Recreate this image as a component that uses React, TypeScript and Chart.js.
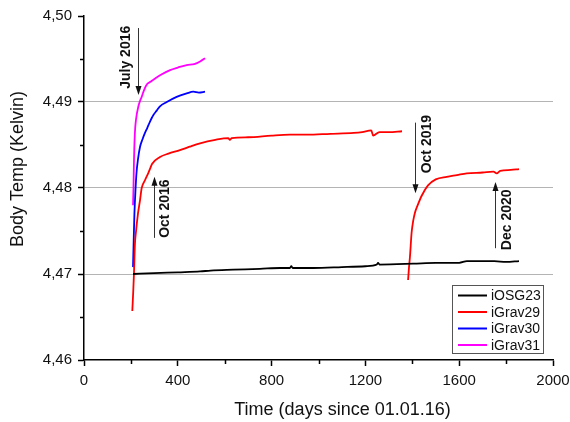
import React, { useEffect, useRef } from "react";
import { Chart, registerables } from "chart.js";

Chart.register(...registerables);

// ---- data (days since 01.01.16, body temperature in K) ----
const osgDays = [209, 300, 400, 495, 540, 637, 750, 836, 878, 884, 890, 977, 1100, 1200, 1249, 1254, 1260, 1403, 1500, 1600, 1633, 1700, 1750, 1800, 1855];
const osgTemp = [4.4700, 4.4701, 4.4702, 4.4703, 4.4704, 4.4705, 4.4706, 4.4707, 4.4707, 4.4709, 4.4707, 4.4707, 4.4708, 4.4709, 4.4711, 4.4713, 4.4711, 4.4712, 4.4713, 4.4713, 4.4715, 4.4715, 4.4715, 4.4714, 4.4715];

const g29DaysA = [206, 210, 213, 217, 222, 230, 239, 246, 260, 275, 284, 290, 324, 360, 409, 450, 495, 560, 615, 622, 630, 700, 800, 878, 950, 1050, 1150, 1186, 1225, 1233, 1260, 1300, 1356];
const g29TempA = [4.4657, 4.4680, 4.4700, 4.4734, 4.4750, 4.4770, 4.4786, 4.4800, 4.4809, 4.4818, 4.4824, 4.4828, 4.4836, 4.4840, 4.4844, 4.4848, 4.4852, 4.4856, 4.4858, 4.4856, 4.4858, 4.4859, 4.4861, 4.4862, 4.4862, 4.4863, 4.4864, 4.4865, 4.4867, 4.4861, 4.4865, 4.4865, 4.4866];
const g29DaysB = [1382, 1386, 1390, 1397, 1404, 1411, 1423, 1440, 1467, 1500, 1547, 1590, 1632, 1700, 1746, 1760, 1775, 1820, 1855];
const g29TempB = [4.4693, 4.4708, 4.4720, 4.4748, 4.4762, 4.4771, 4.4780, 4.4791, 4.4803, 4.4810, 4.4813, 4.4815, 4.4817, 4.4818, 4.4819, 4.4817, 4.4820, 4.4821, 4.4822];

const g30Days = [209, 212, 215, 220, 224, 230, 239, 250, 260, 270, 281, 290, 296, 310, 324, 353, 395, 438, 466, 490, 516];
const g30Temp = [4.4708, 4.4740, 4.4770, 4.4800, 4.4818, 4.4833, 4.4848, 4.4857, 4.4864, 4.4870, 4.4877, 4.4882, 4.4885, 4.4890, 4.4895, 4.4900, 4.4906, 4.4910, 4.4912, 4.4911, 4.4912];

const g31Days = [209, 211, 213, 217, 222, 232, 240, 246, 255, 267, 280, 296, 330, 367, 400, 438, 470, 495, 516];
const g31Temp = [4.4780, 4.4800, 4.4830, 4.4864, 4.4880, 4.4895, 4.4902, 4.4906, 4.4913, 4.4920, 4.4923, 4.4926, 4.4932, 4.4937, 4.4940, 4.4943, 4.4944, 4.4947, 4.4951];

const seriesNames = ["iOSG23", "iGrav29", "iGrav30", "iGrav31"];
const seriesColors = ["#000000", "#ff0000", "#0000ff", "#ff00ff"];

const xMinorTicks = [200, 600, 1000, 1400, 1800];
const yMinorTicks = [4.465, 4.475, 4.485, 4.495];
const yGridValues = [4.47, 4.48, 4.49];

// annotations: arrow x (day), arrow from/to (K), label x (day), label centre (K)
const noteLabels = ["July 2016", "Oct 2016", "Oct 2019", "Dec 2020"];
const noteArrowX = [230, 298, 1411, 1753];
const noteArrowFrom = [4.4986, 4.4742, 4.4876, 4.4730];
const noteArrowTo = [4.4908, 4.4813, 4.4794, 4.4807];
const noteTextX = [179, 345, 1463, 1804];
const noteTextY = [4.4952, 4.4776, 4.4851, 4.4763];

const FONT = '"Liberation Sans", Arial, sans-serif';

const zip = (xs: number[], ys: number[]) => xs.map((x, i) => ({ x, y: ys[i] }));

const overlay = {
  id: "overlay",
  afterDraw(chart: any) {
    const { ctx, chartArea } = chart;
    const xs = chart.scales.x;
    const ys = chart.scales.y;
    const { left, right, top, bottom } = chartArea;
    ctx.save();

    // minor ticks
    ctx.strokeStyle = "#000";
    ctx.lineWidth = 1.5;
    ctx.beginPath();
    xMinorTicks.forEach((v) => {
      const px = Math.round(xs.getPixelForValue(v)) + 0.5;
      ctx.moveTo(px, bottom);
      ctx.lineTo(px, bottom + 4);
    });
    yMinorTicks.forEach((v) => {
      const py = Math.round(ys.getPixelForValue(v)) + 0.5;
      ctx.moveTo(left - 4, py);
      ctx.lineTo(left, py);
    });
    ctx.stroke();

    // axis titles
    ctx.fillStyle = "#111";
    ctx.font = `18px ${FONT}`;
    ctx.textAlign = "center";
    ctx.textBaseline = "middle";
    ctx.fillText("Time (days since 01.01.16)", (left + right) / 2 + 24, 410);
    ctx.save();
    ctx.translate(18, (top + bottom) / 2 - 19);
    ctx.rotate(-Math.PI / 2);
    ctx.fillText("Body Temp (Kelvin)", 0, 0);
    ctx.restore();

    // annotations
    noteLabels.forEach((label, i) => {
      const ax = Math.round(xs.getPixelForValue(noteArrowX[i])) + 0.5;
      const y0 = ys.getPixelForValue(noteArrowFrom[i]);
      const y1 = ys.getPixelForValue(noteArrowTo[i]);
      const dir = y1 > y0 ? 1 : -1;
      ctx.strokeStyle = "#333";
      ctx.lineWidth = 1;
      ctx.beginPath();
      ctx.moveTo(ax, y0);
      ctx.lineTo(ax, y1 - dir * 7);
      ctx.stroke();
      ctx.fillStyle = "#111";
      ctx.beginPath();
      ctx.moveTo(ax, y1);
      ctx.lineTo(ax - 3, y1 - dir * 9);
      ctx.lineTo(ax + 3, y1 - dir * 9);
      ctx.closePath();
      ctx.fill();

      const tx = xs.getPixelForValue(noteTextX[i]);
      const ty = ys.getPixelForValue(noteTextY[i]);
      ctx.save();
      ctx.translate(tx, ty);
      ctx.rotate(-Math.PI / 2);
      ctx.font = `bold 14px ${FONT}`;
      ctx.textAlign = "center";
      ctx.textBaseline = "middle";
      ctx.fillStyle = "#111";
      ctx.fillText(label, 0, 0);
      ctx.restore();
    });

    // legend
    const bx1 = right - 10;
    const by1 = bottom - 7;
    const bx0 = bx1 - 91;
    const by0 = by1 - 68;
    ctx.fillStyle = "#fff";
    ctx.fillRect(bx0, by0, bx1 - bx0, by1 - by0);
    ctx.strokeStyle = "#555";
    ctx.lineWidth = 1;
    ctx.strokeRect(Math.round(bx0) + 0.5, Math.round(by0) + 0.5, bx1 - bx0, by1 - by0);
    ctx.font = `14px ${FONT}`;
    ctx.textAlign = "left";
    ctx.textBaseline = "middle";
    seriesNames.forEach((name, i) => {
      const ry = by0 + 10.5 + i * 16.5;
      ctx.strokeStyle = seriesColors[i];
      ctx.lineWidth = 2;
      ctx.beginPath();
      ctx.moveTo(bx0 + 6, ry);
      ctx.lineTo(bx0 + 35, ry);
      ctx.stroke();
      ctx.fillStyle = "#111";
      ctx.fillText(name, bx0 + 39, ry + 1);
    });

    ctx.restore();
  },
};

export default function App() {
  const ref = useRef<HTMLCanvasElement>(null);
  useEffect(() => {
    const redData = [
      ...zip(g29DaysA, g29TempA),
      { x: 1370, y: null as any },
      ...zip(g29DaysB, g29TempB),
    ];
    const common = {
      pointRadius: 0,
      borderWidth: 1.8,
      fill: false,
      cubicInterpolationMode: "monotone" as const,
      spanGaps: false,
    };
    const chart = new Chart(ref.current!, {
      type: "line",
      data: {
        datasets: [
          { label: seriesNames[0], data: zip(osgDays, osgTemp), borderColor: seriesColors[0], ...common },
          { label: seriesNames[1], data: redData, borderColor: seriesColors[1], ...common },
          { label: seriesNames[2], data: zip(g30Days, g30Temp), borderColor: seriesColors[2], ...common },
          { label: seriesNames[3], data: zip(g31Days, g31Temp), borderColor: seriesColors[3], ...common },
        ],
      },
      options: {
        responsive: false,
        animation: false,
        layout: { padding: { top: 16, right: 17, left: 0, bottom: 0 } },
        plugins: { legend: { display: false }, tooltip: { enabled: false } },
        scales: {
          x: {
            type: "linear",
            min: 0,
            max: 2000,
            afterFit: (s: any) => {
              s.height = 62;
              s.paddingLeft = 0;
              s.paddingRight = 0;
            },
            ticks: {
              stepSize: 400,
              padding: 6,
              color: "#111",
              font: { family: FONT, size: 15 },
              maxRotation: 0,
              callback: (v: any) => String(Math.round(Number(v))),
            },
            grid: { drawOnChartArea: false, tickLength: 6, tickColor: "#000", tickWidth: 1.5 },
            border: { display: true, color: "#000", width: 1.5 },
          },
          y: {
            type: "linear",
            min: 4.46,
            max: 4.5,
            afterFit: (s: any) => {
              s.width = 84;
              s.paddingTop = 0;
              s.paddingBottom = 0;
            },
            ticks: {
              stepSize: 0.01,
              padding: 6,
              color: "#111",
              font: { family: FONT, size: 15 },
              callback: (v: any) => Number(v).toFixed(2).replace(".", ","),
            },
            grid: {
              color: (c: any) =>
                c.tick && yGridValues.some((g) => Math.abs(g - c.tick.value) < 1e-6) ? "#b4b4b4" : "rgba(0,0,0,0)",
              lineWidth: 1,
              tickLength: 6,
              tickColor: "#000",
              tickWidth: 1.5,
            },
            border: { display: true, color: "#000", width: 1.5 },
          },
        },
      },
      plugins: [overlay],
    } as any);
    return () => chart.destroy();
  }, []);
  return (
    <div style={{ position: "fixed", left: 0, top: 0, width: 570, height: 422, background: "#fff" }}>
      <canvas ref={ref} width={570} height={422} />
    </div>
  );
}
